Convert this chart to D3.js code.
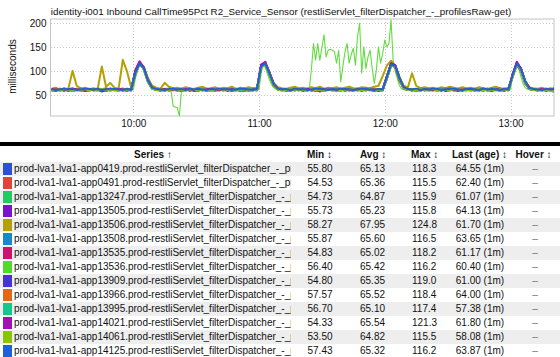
<!DOCTYPE html>
<html><head><meta charset="utf-8">
<script src="https://cdn.jsdelivr.net/npm/d3@7"></script>
<style>
html,body{margin:0;padding:0;background:#fff;overflow:hidden}
svg{display:block;font-family:"Liberation Sans",Arial,Helvetica,sans-serif}
</style></head><body>
<svg id="c" width="560" height="357"></svg>
<script>
const chartTitle = "identity-i001 Inbound CallTime95Pct R2_Service_Sensor (restliServlet_filterDispatcher_-_profilesRaw-get)";
const yLabel = "milliseconds";
const yTicks = [50, 100, 150, 200];
const xTickLabels = ["10:00", "11:00", "12:00", "13:00"];
const startTime = "09:21";
const stepMinutes = 2;
const extraStepMinutes = 1;

const hosts = ["app0419","app0491","app13247","app13505","app13506","app13508","app13535","app13536","app13909","app13966","app13995","app14021","app14061","app14125"];
const seriesColors = ["#2b50d8","#e04438","#20cc60","#7a14cc","#b3a100","#1689c8","#d0106e","#4fdc28","#4433d9","#e06818","#14c88c","#a010b4","#8cc400","#1e62d8"];
const extraColor = "#62dc3e";

const minVals  = [55.80,54.53,54.73,55.73,58.27,55.87,54.83,56.40,54.80,57.57,56.70,54.33,53.50,57.43];
const avgVals  = [65.13,65.36,64.87,65.23,67.95,65.60,65.02,65.42,65.35,65.52,65.10,65.54,64.82,65.32];
const maxVals  = [118.3,115.5,115.9,115.8,124.8,116.5,118.2,116.2,119.0,118.4,117.4,121.3,115.5,116.2];
const lastVals = [64.55,62.40,61.07,64.13,61.70,63.65,61.17,60.40,61.00,64.00,57.38,61.80,58.08,63.87];
const lastAge = "(1m)";
const columns = ["Series \u2191","Min \u2195","Avg \u2195","Max \u2195","Last (age) \u2195","Hover \u2195"];

const v0419 = [62,60,63,61,64,59,62,63,60,61, 63,62,58,61,64,62,60,63,61,62,
 98,118,108,82,66,61,63,60,62,64, 61,59,62,63,60,62,61,64,62,60, 63,61,62,59,61,63,62,60,61,62,
 112,117,96,72,63,61,60,62,63,61, 62,64,60,61,63,59,62,61,63,62, 60,62,61,64,62,60,63,61,62,60,
 88,116,110,84,66,62,61,63,60,62, 61,63,62,60,64,62,61,59,62,63, 61,62,60,63,62,61,64,62,60,62,
 92,114,102,76,64,62,61,63,60,62, 64.55];
const v0491 = [61,63,60,62,59,64,61,62,63,60, 62,60,63,59,62,61,64,60,62,61,
 95,115,106,80,65,62,60,63,61,62, 63,60,61,64,62,59,63,61,60,62, 61,64,60,62,63,61,59,62,64,61,
 108,115,94,70,62,60,63,61,62,64, 61,60,63,62,58,61,63,64,60,62, 63,61,60,62,64,61,62,59,61,63,
 90,114,108,80,64,61,62,60,63,61, 62,60,64,61,63,62,60,61,63,64, 62,60,61,63,64,61,62,60,63,61,
 94,113,100,74,63,61,62,60,64,61, 62.4];
const v13247 = [63,61,62,60,62,63,61,59,62,64, 60,61,63,62,60,64,62,61,59,62,
 100,116,104,78,64,61,62,60,63,61, 60,62,64,61,63,60,62,59,61,63, 62,60,63,61,64,62,60,61,63,62,
 110,114,92,70,63,62,60,61,64,62, 59,62,61,63,60,62,64,61,62,60, 62,63,61,60,62,64,61,63,60,62,
 86,112,111,86,67,62,60,63,61,62, 64,61,60,62,63,61,62,64,60,61, 63,61,62,60,62,63,61,59,62,63,
 90,115,104,78,65,62,60,61,63,62, 61.07];
const v13505 = [60,62,64,61,63,60,62,61,64,62, 61,63,60,62,64,61,63,62,60,63,
 97,115,107,81,66,63,61,62,64,61, 62,64,60,63,61,62,64,61,63,60, 62,63,61,64,60,62,61,63,62,61,
 111,116,95,73,64,61,62,64,60,63, 62,61,64,60,62,63,61,64,62,61, 64,60,62,63,61,62,64,60,63,62,
 84,113,112,88,68,63,61,62,64,60, 63,62,61,64,60,63,62,61,64,62, 60,63,61,62,64,62,61,63,60,63,
 88,115,106,80,66,63,61,62,60,63, 64.13];
const v13506 = [64,66,62,65,63,101,70,64,66,63, 65,63,110,68,76,66,64,124,100,66,
 96,118,110,86,70,66,64,76,68,65, 66,64,67,65,63,66,68,64,65,67, 64,66,65,68,63,66,64,67,65,66,
 106,118,98,76,67,65,64,66,68,65, 66,64,67,65,68,64,66,65,67,64, 66,68,65,64,67,66,65,68,70,90,
 112,122,112,86,70,66,96,70,65,67, 65,66,64,67,65,68,66,64,67,65, 66,64,67,65,63,66,68,65,64,66,
 90,114,104,80,67,65,64,66,63,65, 61.7];
const v13508 = [62,61,63,60,62,64,61,63,62,60, 63,62,61,64,60,62,63,61,62,60,
 94,116,109,83,66,62,61,63,60,62, 63,61,62,60,64,62,61,63,62,61, 60,62,64,61,63,62,60,62,61,63,
 109,116,97,74,64,62,61,63,62,60, 63,62,60,61,64,62,63,61,60,62, 61,63,62,64,60,62,61,63,62,61,
 89,115,109,83,65,62,63,61,60,62, 61,63,62,64,61,60,62,63,61,62, 64,62,61,60,63,62,61,64,62,60,
 93,116,103,77,65,63,61,62,64,61, 63.65];
const v13535 = [61,59,62,63,60,61,63,62,59,61, 62,64,61,60,63,61,62,60,63,61,
 99,118,105,79,64,61,60,62,61,63, 60,62,61,63,59,61,62,60,63,61, 62,61,63,60,62,59,61,63,62,60,
 113,117,93,71,62,61,63,60,62,61, 63,60,62,61,59,63,62,60,61,62, 60,61,63,62,60,62,61,63,59,61,
 87,114,110,85,66,61,62,60,63,61, 60,62,61,63,59,61,62,60,63,62, 61,60,62,63,61,59,62,61,60,62,
 91,117,103,77,63,61,60,62,61,63, 61.17];
const v13536 = [63,62,60,64,61,62,63,60,62,63, 61,60,62,63,61,64,62,60,61,63,
 96,116,106,80,65,63,61,62,64,60, 62,63,61,60,62,64,61,62,63,61, 60,63,62,61,64,60,62,63,61,62,
 110,115,96,72,63,61,62,64,60,62, 61,63,62,64,61,60,63,62,61,63, 62,60,64,61,63,62,60,61,63,62,
 85,111,113,89,68,63,61,62,60,64, 62,61,63,60,62,64,61,63,62,60, 63,61,62,64,60,62,63,61,62,61,
 89,114,105,79,66,62,63,61,60,62, 60.4];
const v13909 = [60,62,61,63,62,60,61,64,62,61, 63,61,62,60,62,63,61,62,64,62,
 101,119,107,80,65,62,61,60,63,62, 61,63,62,60,61,64,62,63,60,61, 63,62,60,61,63,62,64,61,60,62,
 112,118,95,72,63,62,60,61,63,62, 60,62,63,61,62,60,64,62,61,63, 62,61,60,63,62,64,61,60,62,63,
 88,116,111,85,67,62,60,61,63,62, 63,62,60,61,64,62,63,61,60,62, 62,61,63,62,60,64,61,62,63,61,
 92,118,105,78,64,62,61,63,62,60, 61];
const v13966 = [63,64,62,61,63,65,62,64,63,61, 62,64,63,65,62,61,63,64,62,63,
 97,118,108,82,67,63,62,64,63,61, 63,62,64,61,63,65,62,63,61,64, 62,63,61,64,62,63,65,62,64,63,
 111,117,97,74,65,63,62,64,61,63, 64,62,63,65,62,61,64,63,62,64, 63,61,62,64,63,65,62,63,61,62,
 86,115,112,87,68,64,62,63,65,62, 63,64,62,61,63,65,62,64,63,61, 62,64,63,65,61,63,62,64,62,63,
 90,117,104,79,66,63,62,64,61,63, 64];
const v13995 = [61,60,62,63,61,62,60,63,61,62, 60,62,63,61,62,60,61,63,62,60,
 98,117,106,79,64,62,60,61,62,63, 61,62,60,63,61,62,63,60,62,61, 62,60,61,63,62,61,60,62,63,61,
 110,117,94,71,62,61,63,60,61,62, 62,63,61,60,62,61,63,62,60,61, 61,62,63,61,60,62,63,61,62,60,
 87,113,110,84,65,62,61,60,62,63, 61,60,62,63,61,62,60,63,61,62, 63,61,60,62,61,63,62,60,61,62,
 91,116,102,76,63,61,62,60,62,60, 57.38];
const v14021 = [62,63,61,60,63,62,64,61,60,62, 61,63,60,62,61,63,62,64,61,62,
 103,121,108,81,66,62,61,63,60,62, 62,60,63,62,61,63,60,62,64,61, 61,62,60,63,61,64,62,60,62,63,
 114,120,97,73,64,62,61,60,63,62, 61,63,62,60,64,61,62,63,61,60, 63,62,61,63,60,62,64,61,62,63,
 89,117,113,86,66,63,62,60,61,63, 62,61,63,60,62,64,61,62,60,63, 61,63,62,60,63,61,62,64,61,62,
 94,120,106,79,65,62,61,63,60,62, 61.8];
const v14061 = [61,62,60,63,61,59,62,61,63,60, 62,61,63,60,62,61,59,62,61,63,
 95,115,105,79,64,61,62,60,61,63, 62,60,61,63,62,60,62,61,59,62, 63,61,62,60,61,63,62,61,60,62,
 108,115,93,70,62,60,61,63,62,61, 62,60,63,61,62,59,61,62,63,60, 61,63,62,60,61,62,63,60,61,62,
 86,112,109,84,65,61,62,60,63,61, 62,63,60,61,62,60,63,62,61,60, 61,62,63,60,62,61,60,63,62,61,
 89,114,103,77,63,61,62,60,61,59, 58.08];
const v14125 = [63,61,62,64,62,63,61,62,64,63, 62,63,61,62,64,63,62,61,63,62,
 97,116,107,81,66,63,62,61,63,64, 62,63,61,64,62,63,62,61,63,62, 64,62,63,61,62,64,63,62,61,63,
 110,116,96,73,64,62,63,61,64,62, 63,61,62,64,63,62,61,63,62,64, 62,63,61,62,64,63,62,61,63,62,
 88,114,111,86,67,63,62,64,61,63, 62,64,63,61,62,63,64,62,61,63, 63,62,61,64,62,63,62,61,64,62,
 92,116,105,79,65,63,62,61,63,62, 63.87];
// unlisted host (rows below the visible table), sampled every minute
const vExtra = [62,61,63,62,60,63,61,62,64,62, 61,63,62,60,62,61,63,62,61,64,
 62,60,63,61,62,63,61,62,60,63, 62,61,63,62,64,61,62,60,63,62,
 85,100,117,112,100,88,76,68,64,62, 61,63,62,60,62,63,61,61,28,26,
 24,7,61,62,63,61,62,64,61,62, 63,61,62,60,62,63,61,62,64,61,
 62,63,61,62,60,63,62,61,62,63, 61,62,64,61,62,60,63,62,61,62,
 95,115,108,95,82,72,66,63,62,61, 63,62,61,64,62,60,62,63,61,62,
 63,61,62,62,105,158,123,158,123,150, 176,130,144,146,144,141,117,144,78,110,
 140,158,117,135,148,113,172,200,96,151, 106,130,144,106,75,103,151,117,137,165,
 151,158,207,123,100,85,70,64,62,61, 62,63,61,62,64,62,61,63,62,60,
 62,61,63,62,60,62,64,61,62,63, 61,62,60,63,62,61,63,62,64,61,
 62,63,61,60,62,63,61,62,64,62, 61,63,62,60,62,61,63,62,61,62,
 90,108,116,104,88,74,66,63,62,61, 63,62,61,64,62,60,62,63,61,62, 62];

const seriesValues = [v0419,v0491,v13247,v13505,v13506,v13508,v13535,v13536,v13909,v13966,v13995,v14021,v14061,v14125];

// ---------- drawing ----------
const svg = d3.select("#c");
const W = 560;
const plot = {left: 50.5, top: 19, right: 554, bottom: 116};
const day = "2020-01-01T";
const parse = d3.timeParse("%Y-%m-%dT%H:%M");
const parseS = d3.timeParse("%Y-%m-%dT%H:%M:%S");
const t0 = parse(day + startTime);

const x = d3.scaleTime()
  .domain([parseS(day + "09:20:30"), parseS(day + "13:20:45")])
  .range([plot.left, plot.right]);
const y = d3.scaleLinear().domain([7, 209]).range([plot.bottom, plot.top]);

const defs = svg.append("defs");
defs.append("clipPath").attr("id", "pc")
  .append("rect").attr("x", plot.left).attr("y", plot.top)
  .attr("width", plot.right - plot.left).attr("height", plot.bottom - plot.top);
defs.append("clipPath").attr("id", "nc")
  .append("rect").attr("x", 0).attr("y", -2).attr("width", 291).attr("height", 18);

// title
svg.append("text").attr("x", W / 2 + 1).attr("y", 15).attr("text-anchor", "middle")
  .attr("font-size", 9.8).attr("fill", "#111").text(chartTitle);

// grid
const xTickDates = xTickLabels.map(s => parse(day + s));
const grid = svg.append("g").attr("stroke", "#c8c8c8").attr("stroke-dasharray", "1,2").attr("shape-rendering", "crispEdges");
grid.selectAll("line.h").data(yTicks).join("line")
  .attr("x1", plot.left).attr("x2", plot.right)
  .attr("y1", d => Math.round(y(d)) + 0.5).attr("y2", d => Math.round(y(d)) + 0.5);
grid.selectAll("line.v").data(xTickDates).join("line")
  .attr("y1", plot.top).attr("y2", plot.bottom)
  .attr("x1", d => Math.round(x(d)) + 0.5).attr("x2", d => Math.round(x(d)) + 0.5);

// frame
svg.append("rect").attr("x", plot.left).attr("y", plot.top)
  .attr("width", plot.right - plot.left).attr("height", plot.bottom - plot.top)
  .attr("fill", "none").attr("stroke", "#c4c4c4");

// axes
const yAxis = svg.append("g").attr("transform", `translate(${plot.left},0)`)
  .call(d3.axisLeft(y).tickValues(yTicks).tickSize(0).tickPadding(4));
yAxis.select(".domain").remove();
yAxis.selectAll("text").attr("font-size", 10).attr("fill", "#111").attr("font-family", "Liberation Sans, Arial, sans-serif");

const xAxis = svg.append("g").attr("transform", `translate(0,${plot.bottom})`)
  .call(d3.axisBottom(x).tickValues(xTickDates).tickFormat(d3.timeFormat("%H:%M")).tickSize(0).tickPadding(4));
xAxis.select(".domain").remove();
xAxis.selectAll("text").attr("font-size", 10).attr("fill", "#111").attr("font-family", "Liberation Sans, Arial, sans-serif");

svg.append("text").attr("transform", `translate(16,${(plot.top + plot.bottom) / 2 - 1}) rotate(-90)`)
  .attr("text-anchor", "middle").attr("font-size", 10).attr("fill", "#111").text(yLabel);

// lines
const line = d3.line().x(d => x(d.t)).y(d => y(d.v));
const toPts = (vals, step) => vals.map((v, i) => ({t: d3.timeMinute.offset(t0, i * step), v}));
const lines = svg.append("g").attr("clip-path", "url(#pc)").attr("fill", "none")
  .attr("stroke-width", 2).attr("stroke-linejoin", "round");
lines.append("path").attr("d", line(toPts(vExtra, extraStepMinutes))).attr("stroke", extraColor).attr("stroke-width", 1.1);
seriesValues.forEach((vals, k) => {
  lines.append("path").attr("d", line(toPts(vals, stepMinutes))).attr("stroke", seriesColors[k]);
});

// table
const tbl = svg.append("g");
tbl.append("rect").attr("x", 0).attr("y", 142).attr("width", W).attr("height", 4).attr("fill", "#000");
const headY = 157.5;
const colX = [153, 307, 360, 411, 479.5, 533.5];
const colAnchor = ["middle", "start", "start", "start", "middle", "middle"];
columns.forEach((c, i) => {
  tbl.append("text").attr("x", colX[i]).attr("y", headY).attr("text-anchor", colAnchor[i])
    .attr("font-size", 10).attr("font-weight", "bold").attr("fill", "#111").text(c);
});
const rowTop0 = 162, rowH = 14;
const rows = tbl.selectAll("g.row").data(hosts).join("g").attr("class", "row")
  .attr("transform", (d, i) => `translate(0,${rowTop0 + i * rowH})`);
rows.append("rect").attr("x", 0).attr("y", 0).attr("width", W).attr("height", rowH)
  .attr("fill", (d, i) => i % 2 === 0 ? "#eeeeee" : "#ffffff");
rows.append("rect").attr("x", 3).attr("y", 1).attr("width", 9).attr("height", rowH - 2)
  .attr("fill", (d, i) => seriesColors[i]);
const rt = rows.append("g").attr("font-size", 10).attr("fill", "#111");
rt.append("text").attr("x", 14).attr("y", 9.8).attr("clip-path", "url(#nc)")
  .text(d => "prod-lva1-lva1-" + d + ".prod-restliServlet_filterDispatcher_-_profilesRaw-get")
  .each(function () {
    // drop characters that would fall wholly past the column edge
    const full = this.textContent;
    let n = full.length;
    while (n > 1 && this.getComputedTextLength() > 282) { n--; this.textContent = full.slice(0, n); }
  });
rt.append("text").attr("x", 307.5).attr("y", 9.8).text((d, i) => minVals[i].toFixed(2));
rt.append("text").attr("x", 360).attr("y", 9.8).text((d, i) => avgVals[i].toFixed(2));
rt.append("text").attr("x", 412).attr("y", 9.8).text((d, i) => maxVals[i].toFixed(1));
rt.append("text").attr("x", 480).attr("y", 9.8).attr("text-anchor", "middle").text((d, i) => lastVals[i].toFixed(2) + " " + lastAge);
rt.append("text").attr("x", 535).attr("y", 9.8).attr("text-anchor", "middle").attr("fill", "#777").text("\u2013");
</script>
</body></html>
